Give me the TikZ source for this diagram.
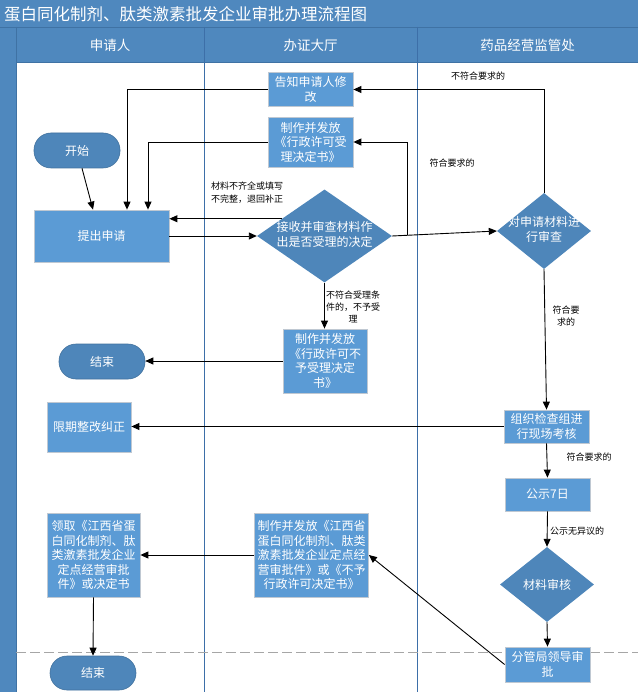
\documentclass[tikz,border=0pt]{standalone}
\usepackage{fontspec}
\setmainfont{Noto Sans CJK SC}
\usetikzlibrary{arrows.meta,shapes.geometric,calc}
\definecolor{barblue}{HTML}{4F88BE}
\definecolor{barline}{HTML}{3F72A4}
\definecolor{laneline}{HTML}{3D6FA8}
\definecolor{boxblue}{HTML}{5B9BD5}
\definecolor{boxborder}{HTML}{BFC8D2}
\definecolor{diablue}{HTML}{4E86BA}
\definecolor{dashgray}{HTML}{A6A6A6}
\newcommand{\boxfont}{\fontsize{12}{14.5}\selectfont}
\newcommand{\lblfont}{\fontsize{9}{12}\selectfont}
\newcommand{\dl}[2]{\makebox[#1]{\begin{tabular}{@{}c@{}}#2\end{tabular}}}
\begin{document}
\begin{tikzpicture}[x=1pt,y=-1pt,
  box/.style={draw=boxborder, line width=0.8pt, fill=boxblue, text=white, font=\boxfont, align=center, inner sep=0pt},
  dia/.style={diamond, fill=diablue, text=white, font=\boxfont, inner sep=0pt, align=center},
  term/.style={rounded corners=17pt, draw=diablue!85!black, line width=0.6pt, fill=diablue, text=white, font=\boxfont, minimum width=86pt, minimum height=35pt, inner sep=0pt},
  lane/.style={draw=laneline, line width=0.8pt},
  arr/.style={draw=black, line width=0.9pt, -{Triangle[length=8pt,width=7pt]}},
  lbl/.style={font=\lblfont, text=black, inner sep=0pt}
]
\useasboundingbox (0,0) rectangle (638,692);
% background
\fill[white] (0,0) rectangle (638,692);
\fill[barblue] (0,0) rectangle (638,27);
\fill[barblue] (0,27) rectangle (16,692);
\fill[barblue] (16,27) rectangle (638,62);
\draw[barline, line width=0.8pt] (0,27) -- (638,27);
\draw[barline, line width=0.8pt] (16,27) -- (16,692);
\draw[barline, line width=0.8pt] (16,62) -- (638,62);
\draw[lane] (204,27) -- (204,692);
\draw[lane] (417,27) -- (417,692);
\draw[dashgray, line width=0.8pt, dash pattern=on 10pt off 4pt] (16,652) -- (638,652);
\node[anchor=west, text=white, font=\fontsize{16.5}{18}\selectfont, inner sep=0pt] (title) at (4,14) {蛋白同化制剂、肽类激素批发企业审批办理流程图};
\node[text=white, font=\fontsize{13.5}{16}\selectfont, inner sep=0pt] (h1) at (110,45) {申请人};
\node[text=white, font=\fontsize{13.5}{16}\selectfont, inner sep=0pt] (h2) at (310.5,45) {办证大厅};
\node[text=white, font=\fontsize{13.5}{16}\selectfont, inner sep=0pt] (h3) at (527.5,45) {药品经营监管处};
% nodes
\node[box, minimum width=85pt, minimum height=34pt] (b1) at (310.5,89.5) {告知申请人修\\改};
\node[box, minimum width=85pt, minimum height=50pt] (b2) at (310.5,142) {制作并发放\\《行政许可受\\理决定书》};
\node[term] (start) at (77,150.5) {开始};
\node[box, minimum width=135pt, minimum height=52pt] (b3) at (101.5,236) {提出申请};
\node[dia, minimum width=135pt, minimum height=93pt, aspect=1.45] (d1) at (324.5,236) {\dl{60pt}{接收并审查材料作\\出是否受理的决定}};
\node[dia, minimum width=94pt, minimum height=76pt, aspect=1.24] (d2) at (544,231) {\dl{36pt}{对申请材料进\\行审查}};
\node[box, minimum width=84pt, minimum height=64pt] (b4) at (325,361) {制作并发放\\《行政许可不\\予受理决定\\书》};
\node[term] (end1) at (102,361.5) {结束};
\node[box, minimum width=84pt, minimum height=50pt] (b5) at (89,427) {限期整改纠正};
\node[box, minimum width=85pt, minimum height=33pt] (b6) at (546.5,426.5) {组织检查组进\\行现场考核};
\node[box, minimum width=85pt, minimum height=33pt] (b7) at (547.5,494.5) {公示7日};
\node[dia, minimum width=94pt, minimum height=75pt, aspect=1.25] (d3) at (547,584.5) {材料审核};
\node[box, minimum width=85pt, minimum height=35pt] (b8) at (547.5,664.5) {分管局领导审\\批};
\node[box, minimum width=114pt, minimum height=84pt] (b9) at (311.5,555) {制作并发放《江西省\\蛋白同化制剂、肽类\\激素批发企业定点经\\营审批件》或《不予\\行政许可决定书》};
\node[box, minimum width=93pt, minimum height=84pt] (b10) at (93.5,555) {领取《江西省蛋\\白同化制剂、肽\\类激素批发企业\\定点经营审批\\件》或决定书};
\node[term, minimum height=34pt] (end2) at (93,673) {结束};
% connectors
\draw[arr] ([xshift=5pt]start.south) -- ([xshift=-8.5pt]b3.north);
\draw[arr] (b1.west) -| ([xshift=25.5pt]b3.north);
\draw[arr] (b2.west) -| ([xshift=46.5pt]b3.north);
\draw[arr] (d1.158) -- (d1.158 -| b3.east);
\draw[arr] (b3.east) -- (d1.west);
\draw[arr] (d1.east) -- (d2.west);
\coordinate (j) at ($(d1.east)!0.143!(d2.west)$);
\draw[arr] (j) |- (b2.east);
\draw[arr] (d2.north) |- (b1.east);
\draw[arr] (d1.south) -- (d1.south |- b4.north);
\draw[arr] (b4.west) -- (b4.west -| end1.east);
\draw[arr] (d2.south) -- (b6.north);
\draw[arr] (b6.west) -- (b6.west -| b5.east);
\draw[arr] (b6.south) -- (b7.north);
\draw[arr] (b7.south) -- (d3.north);
\draw[arr] (d3.south) -- (b8.north);
\draw[arr] (b8.west) -- (b9.east);
\draw[arr] (b9.west) -- (b10.east);
\draw[arr] (b10.south) -- (end2.north);
% labels
\node[lbl, align=left, anchor=north west] (l1) at (211,182) {材料不齐全或填写\\[1pt]不完整，退回补正};
\node[lbl, align=center] (l2) at (353,307) {不符合受理条\\件的，不予受\\理};
\node[lbl] (l3) at (478,76) {不符合要求的};
\node[lbl] (l4) at (452,163) {符合要求的};
\node[lbl, align=center] (l5) at (566,316) {符合要\\求的};
\node[lbl] (l6) at (589,457) {符合要求的};
\node[lbl] (l7) at (577,531) {公示无异议的};
\end{tikzpicture}
\end{document}
